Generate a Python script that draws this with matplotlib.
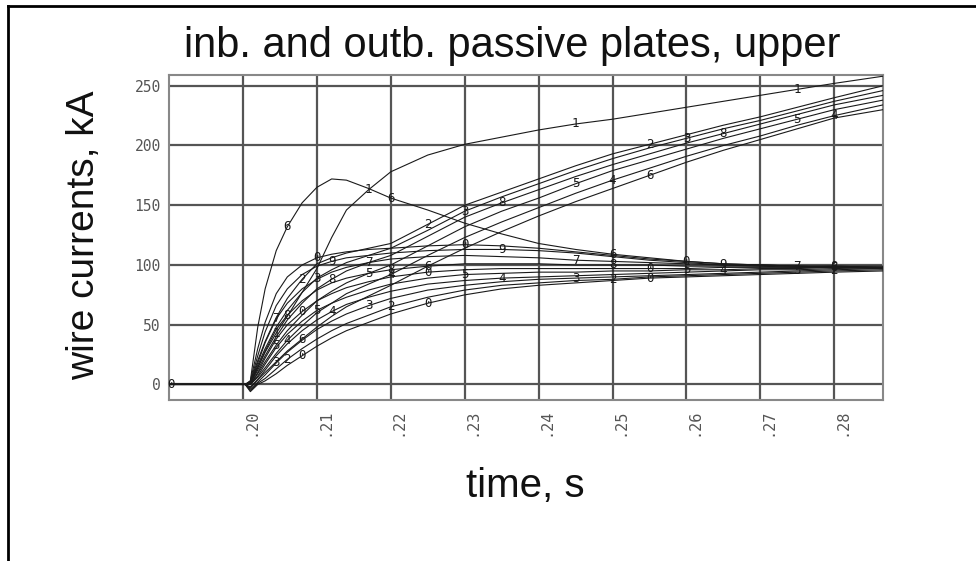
import matplotlib
matplotlib.use("Agg")
import matplotlib.pyplot as plt
from matplotlib.lines import Line2D

# common time grid, s
time_s = [0.190, 0.2003, 0.2010, 0.2020, 0.2030, 0.2045, 0.2060, 0.2080, 0.2100,
          0.2120, 0.2140, 0.2170, 0.2200, 0.2250, 0.2300, 0.2350, 0.2400, 0.2450,
          0.2500, 0.2550, 0.2600, 0.2650, 0.2700, 0.2750, 0.2800, 0.2866]

# wire currents, kA
wire_1 = [0, 0, 2, 14, 27, 43, 57, 77, 97, 123, 146, 163, 178, 192, 201, 207, 213, 218,
          222, 227, 232, 237, 242, 247, 252, 258]
wire_peak = [0, 0, 3, 48, 80, 112, 132, 152, 165, 172, 171, 164, 156, 146, 135, 126, 118, 113,
             109, 106, 103, 101, 100, 99, 98, 97]

# upper group
wire_u1 = [0, 0, 2, 20, 36, 56, 72, 88, 101, 106, 110, 114, 118, 134, 150, 161, 172, 183,
           193, 201, 209, 217, 224, 232, 240, 250]
wire_u2 = [0, 0, 1, 16, 30, 48, 62, 77, 89, 96, 102, 108, 114, 129, 145, 157, 168, 179,
           189, 198, 206, 214, 221, 229, 237, 246]
wire_u3 = [0, 0, 1, 12, 24, 40, 54, 68, 80, 88, 95, 102, 108, 124, 140, 152, 163, 174,
           184, 193, 202, 210, 218, 226, 234, 242]
wire_u4 = [0, 0, 0, 9, 19, 33, 45, 58, 70, 78, 85, 93, 100, 116, 132, 145, 156, 168,
           179, 188, 197, 206, 214, 222, 230, 238]
wire_u5 = [0, 0, 0, 6, 14, 26, 37, 49, 60, 68, 76, 84, 92, 108, 123, 136, 148, 160,
           171, 181, 191, 200, 208, 217, 225, 234]
wire_u6 = [0, 0, -2, 4, 10, 19, 28, 38, 48, 57, 65, 74, 83, 99, 114, 128, 141, 153,
           164, 175, 186, 196, 205, 214, 223, 230]

# lower group, settling near 100 kA
wire_l1 = [0, 0, 3, 30, 52, 76, 90, 100, 106, 109, 111, 113, 114, 116, 117, 116, 114, 111,
           108, 105, 103, 101, 100, 99, 98, 98]
wire_l2 = [0, 0, 2, 24, 44, 66, 80, 92, 99, 103, 106, 108, 110, 112, 113, 113, 112, 110,
           107, 104, 102, 100, 99, 98, 98, 97]
wire_l3 = [0, 0, 1, 18, 35, 55, 68, 80, 88, 94, 98, 102, 105, 107, 108, 107, 106, 104,
           103, 102, 101, 100, 100, 99, 99, 98]
wire_l4 = [0, 0, 0, 14, 28, 46, 58, 70, 79, 85, 89, 93, 96, 99, 101, 101, 101, 100,
           100, 100, 99, 99, 99, 99, 99, 98]
wire_l5 = [0, 0, 0, 10, 22, 38, 50, 61, 70, 76, 81, 86, 90, 94, 96, 97, 97, 97,
           97, 97, 97, 98, 98, 98, 99, 99]
wire_l6 = [0, 0, 0, 7, 17, 31, 42, 53, 62, 68, 73, 79, 84, 89, 92, 93, 94, 94,
           95, 95, 96, 96, 97, 97, 98, 98]
wire_l7 = [0, 0, -3, 4, 12, 24, 34, 45, 54, 61, 67, 73, 78, 84, 87, 89, 90, 91,
           92, 93, 94, 95, 96, 96, 97, 98]
wire_l8 = [0, 0, -4, 2, 8, 18, 27, 37, 46, 53, 59, 66, 72, 79, 83, 86, 88, 89,
           90, 91, 92, 93, 94, 95, 96, 97]
wire_l9 = [0, 0, -5, 1, 5, 13, 21, 30, 38, 45, 51, 58, 65, 73, 79, 83, 85, 87,
           88, 90, 91, 92, 93, 94, 95, 96]
wire_l10 = [0, 0, -6, 0, 3, 9, 16, 24, 32, 39, 45, 52, 59, 68, 75, 80, 83, 85,
            87, 89, 90, 91, 92, 93, 94, 95]

curve_list = [
    (wire_1, "1"), (wire_peak, "6"),
    (wire_u1, "2"), (wire_u2, "3"), (wire_u3, "8"), (wire_u4, "5"), (wire_u5, "4"), (wire_u6, "6"),
    (wire_l1, "0"), (wire_l2, "9"), (wire_l3, "7"), (wire_l4, "8"), (wire_l5, "0"),
    (wire_l6, "5"), (wire_l7, "4"), (wire_l8, "3"), (wire_l9, "2"), (wire_l10, "0"),
]

x_ticks = [0.20, 0.21, 0.22, 0.23, 0.24, 0.25, 0.26, 0.27, 0.28]
x_tick_labels = [".20", ".21", ".22", ".23", ".24", ".25", ".26", ".27", ".28"]
y_ticks = [0, 50, 100, 150, 200, 250]


def main():
    fig = plt.figure(figsize=(9.76, 5.61), dpi=100)
    ax = fig.add_axes([0.1732, 0.287, 0.7316, 0.5793])

    for k, (vals, ch) in enumerate(curve_list):
        ax.plot(time_s, vals, color="#1a1a1a", lw=0.8, zorder=3)
        start = 5 + (k % 5)
        for i in range(start, len(time_s) - 1, 6):
            ax.text(time_s[i], vals[i], ch, family="DejaVu Sans Mono", fontsize=9,
                    color="#1a1a1a", ha="center", va="center", zorder=4)
    ax.text(time_s[0] + 0.0003, 0, "0", family="DejaVu Sans Mono", fontsize=9,
            color="#1a1a1a", ha="center", va="center", zorder=4)

    ax.set_xlim(0.19, 0.2866)
    ax.set_ylim(-13, 259)
    ax.set_xticks(x_ticks)
    # labels sit a little right of their grid line in the original
    ax.set_xticklabels(x_tick_labels, rotation=90, ha="left", family="DejaVu Sans Mono",
                       fontsize=11, color="#555555")
    ax.set_yticks(y_ticks)
    ax.set_yticklabels([str(v) for v in y_ticks], family="DejaVu Sans Mono",
                       fontsize=10.5, color="#555555")
    ax.tick_params(length=0, pad=6)
    ax.grid(True, color="#555555", lw=1.6)
    ax.set_axisbelow(True)
    for sp in ax.spines.values():
        sp.set_color("#888888")
        sp.set_linewidth(1.5)

    fig.text(0.5246, 0.898, "inb. and outb. passive plates, upper", family="Liberation Sans",
             fontsize=30, ha="center", va="baseline", color="#111111")
    fig.text(0.538, 0.114, "time, s", family="Liberation Sans", fontsize=29,
             ha="center", va="baseline", color="#111111")
    fig.text(0.086, 0.58, "wire currents, kA", family="Liberation Sans", fontsize=28,
             rotation=90, ha="center", va="center", color="#111111")

    # page frame, top and left only
    fig.add_artist(Line2D([0.0085, 1.0], [0.990, 0.990], color="black", lw=2))
    fig.add_artist(Line2D([0.0085, 0.0085], [0.0, 0.990], color="black", lw=2))

    fig.savefig("out.png", dpi=100)


if __name__ == "__main__":
    main()
